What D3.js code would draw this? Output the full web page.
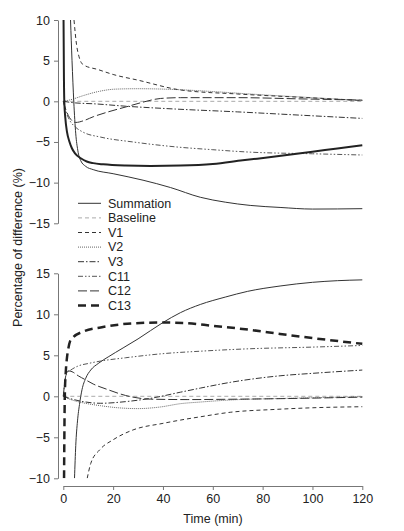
<!DOCTYPE html>
<html><head><meta charset="utf-8">
<script src="https://cdn.jsdelivr.net/npm/d3@7"></script>
<style>body{margin:0;background:#fff}svg{display:block}text{font-family:"Liberation Sans",Arial,sans-serif}</style>
</head><body>
<svg id="c" width="404" height="531"></svg>
<script>
// ---- data (time in min, percentage of difference) ----
const xTicks = [0, 20, 40, 60, 80, 100, 120];
const topTicks = [10, 5, 0, -5, -10, -15];
const botTicks = [15, 10, 5, 0, -5, -10];
const legendNames = ["Summation", "Baseline", "V1", "V2", "V3", "C11", "C12", "C13"];

// top panel
const topSummation = [[2.9,10],[3.5,5],[4.2,0],[5,-4],[5.8,-6],[7,-7.3],[9,-8],[12,-8.4],[20,-8.9],[32,-9.7],[43,-10.6],[55,-11.8],[65,-12.4],[75,-12.8],[87,-13.05],[100,-13.25],[120,-13.2]];
const topBaseline = [[0,0],[120,0]];
const topV1 = [[4.3,10],[5.3,7],[6.3,5.5],[8,4.5],[14,3.9],[20,3.3],[30,2.6],[47,1.4],[70,0.9],[95,0.5],[120,0.1]];
const topV2 = [[0,0],[3,0.2],[8,0.7],[14,1.2],[21,1.5],[30,1.55],[45,1.45],[60,1.2],[80,0.8],[100,0.45],[120,0.1]];
const topV3 = [[0,0],[5,-0.2],[12,-0.3],[25,-0.6],[45,-0.95],[70,-1.3],[95,-1.7],[120,-2.1]];
const topC11 = [[0,0],[1,-1.2],[2.5,-2.3],[5,-3.2],[8,-3.8],[15,-4.4],[28,-5],[45,-5.6],[60,-5.95],[75,-6.25],[100,-6.45],[120,-6.6]];
const topC12 = [[0,0],[1,-1],[2.5,-2],[5,-2.6],[8,-2.4],[12,-1.9],[18,-1.3],[25.5,-0.66],[32,-0.1],[39,0.35],[47,0.45],[70,0.45],[95,0.3],[120,0.15]];
const topC13 = [[0.1,10],[0.25,3],[0.4,0],[0.8,-2],[1.5,-3.8],[2.5,-5],[3.5,-5.8],[4.7,-6.4],[7,-7],[9.4,-7.4],[12,-7.6],[16,-7.75],[25,-7.9],[35,-7.95],[47,-7.9],[60,-7.7],[72,-7.25],[85,-6.8],[100,-6.2],[110,-5.8],[120,-5.4]];

// bottom panel
const botSummation = [[4.5,-10],[5,-6],[5.7,-3],[6.5,-1],[7.5,0.8],[9,2.2],[11,3.2],[14,4],[18,4.8],[24,5.9],[30,7],[40,9],[47,10.2],[55,11.2],[65,12.1],[74,12.8],[87,13.45],[100,13.9],[110,14.1],[120,14.2]];
const botBaseline = [[0,0],[120,0]];
const botV1 = [[9.6,-10],[11,-8.2],[14.7,-6.5],[20,-5.3],[28,-4.1],[40,-3.3],[47,-2.9],[55,-2.5],[67,-1.95],[85,-1.6],[100,-1.4],[120,-1.27]];
const botV2 = [[0,0],[3,-0.4],[8,-0.8],[15,-1.15],[22,-1.4],[30,-1.5],[39,-1.3],[47,-0.9],[55,-0.7],[67,-0.45],[90,-0.25],[120,-0.05]];
const botV3 = [[0,0],[3,-0.3],[8,-0.65],[15,-0.85],[25,-0.65],[35,-0.25],[47,0.5],[55,1],[67,1.7],[87,2.5],[100,2.8],[120,3.2]];
const botC11 = [[0,0],[0.5,1.5],[1.4,2.8],[3,3.2],[6,3.7],[10,4],[15,4.3],[25,4.7],[40,5.2],[55,5.5],[75,5.8],[100,6],[120,6.2]];
const botC12 = [[0,0],[0.5,1.5],[1,2.5],[2,3.1],[3.5,3],[6,2.5],[9,2],[12,1.5],[18,0.8],[25,0.1],[35,-0.35],[50,-0.4],[70,-0.35],[95,-0.25],[120,-0.1]];
const botC13 = [[0.3,-10],[0.6,0],[1,3],[1.4,4.5],[2,5.8],[2.7,6.7],[4,7.2],[8,7.9],[15,8.4],[28,8.9],[39,9],[48,8.95],[60,8.6],[75,8.1],[87,7.6],[100,7.1],[120,6.4]];

// ---- styles ----
const styles = {
  "Summation": {stroke:"#333", width:1, dash:null},
  "Baseline":  {stroke:"#aaa", width:1, dash:"4,3"},
  "V1":        {stroke:"#333", width:1, dash:"4,3"},
  "V2":        {stroke:"#666", width:1, dash:"1,1"},
  "V3":        {stroke:"#333", width:1, dash:"6,2,1.5,2"},
  "C11":       {stroke:"#555", width:1, dash:"5,2,1.5,2,1.5,2"},
  "C12":       {stroke:"#333", width:1, dash:"9,3"},
  "C13":       {stroke:"#222", width:2.5, dash:"8,5"}
};

const svg = d3.select("#c");
const x = d3.scaleLinear().domain([0,120]).range([63.3,362.3]);
const yTop = d3.scaleLinear().domain([-15,10]).range([223.3,20]);
const yBot = d3.scaleLinear().domain([-10,15]).range([478.3,273.3]);
const axisColor = "#777";

function styleAxis(g){
  g.selectAll("path,line").attr("stroke",axisColor);
  g.selectAll("text").attr("fill","#222").style("font-size","12.5px");
}
const fmt = d => d < 0 ? "\u2212" + Math.abs(d) : String(d);

svg.append("g").attr("transform","translate(58,0)")
  .call(d3.axisLeft(yTop).tickValues(topTicks).tickSize(4).tickSizeOuter(0).tickPadding(4).tickFormat(fmt))
  .call(styleAxis);
svg.append("g").attr("transform","translate(58,0)")
  .call(d3.axisLeft(yBot).tickValues(botTicks).tickSize(4).tickSizeOuter(0).tickPadding(4).tickFormat(fmt))
  .call(styleAxis);
svg.append("g").attr("transform","translate(0,486)")
  .call(d3.axisBottom(x).tickValues(xTicks).tickSize(4).tickSizeOuter(0).tickPadding(4))
  .call(styleAxis);

// clip paths
const defs = svg.append("defs");
defs.append("clipPath").attr("id","clipTop").append("rect")
  .attr("x",x(0)-2).attr("y",yTop(10)).attr("width",x(120)-x(0)+4).attr("height",yTop(-15)-yTop(10));
defs.append("clipPath").attr("id","clipBot").append("rect")
  .attr("x",x(0)-2).attr("y",yBot(15)).attr("width",x(120)-x(0)+4).attr("height",yBot(-10)-yBot(15));

function drawPanel(series, y, clip){
  const g = svg.append("g").attr("clip-path",`url(#${clip})`);
  const line = d3.line().x(d=>x(d[0])).y(d=>y(d[1])).curve(d3.curveMonotoneX);
  series.forEach(s=>{
    const st = Object.assign({}, styles[s.name], s.override||{});
    g.append("path").datum(s.data)
      .attr("d",line).attr("fill","none")
      .attr("stroke",st.stroke).attr("stroke-width",st.width)
      .attr("stroke-dasharray",st.dash);
  });
}

drawPanel([
  {name:"Baseline", data:topBaseline},
  {name:"V2", data:topV2},
  {name:"V3", data:topV3},
  {name:"C11", data:topC11},
  {name:"C12", data:topC12},
  {name:"V1", data:topV1},
  {name:"Summation", data:topSummation},
  {name:"C13", data:topC13, override:{dash:null, width:2}}
], yTop, "clipTop");

drawPanel([
  {name:"Baseline", data:botBaseline},
  {name:"V2", data:botV2},
  {name:"V3", data:botV3},
  {name:"C11", data:botC11},
  {name:"C12", data:botC12},
  {name:"V1", data:botV1},
  {name:"Summation", data:botSummation},
  {name:"C13", data:botC13}
], yBot, "clipBot");

// legend
const lg = svg.append("g");
legendNames.forEach((n,i)=>{
  const yy = 203.3 + i*14.6;
  const st = styles[n];
  lg.append("line").attr("x1",78).attr("x2",101).attr("y1",yy).attr("y2",yy)
    .attr("stroke",st.stroke).attr("stroke-width",st.width).attr("stroke-dasharray",st.dash);
  lg.append("text").attr("x",108).attr("y",yy).attr("dy","0.35em")
    .attr("fill","#222").style("font-size","12.5px").text(n);
});

// titles
svg.append("text").attr("transform","translate(21.5,247.5) rotate(-90)")
  .attr("text-anchor","middle").attr("fill","#222").style("font-size","12.5px")
  .text("Percentage of difference (%)");
svg.append("text").attr("x",213).attr("y",523).attr("text-anchor","middle")
  .attr("fill","#222").style("font-size","12.5px").text("Time (min)");
</script>
</body></html>
